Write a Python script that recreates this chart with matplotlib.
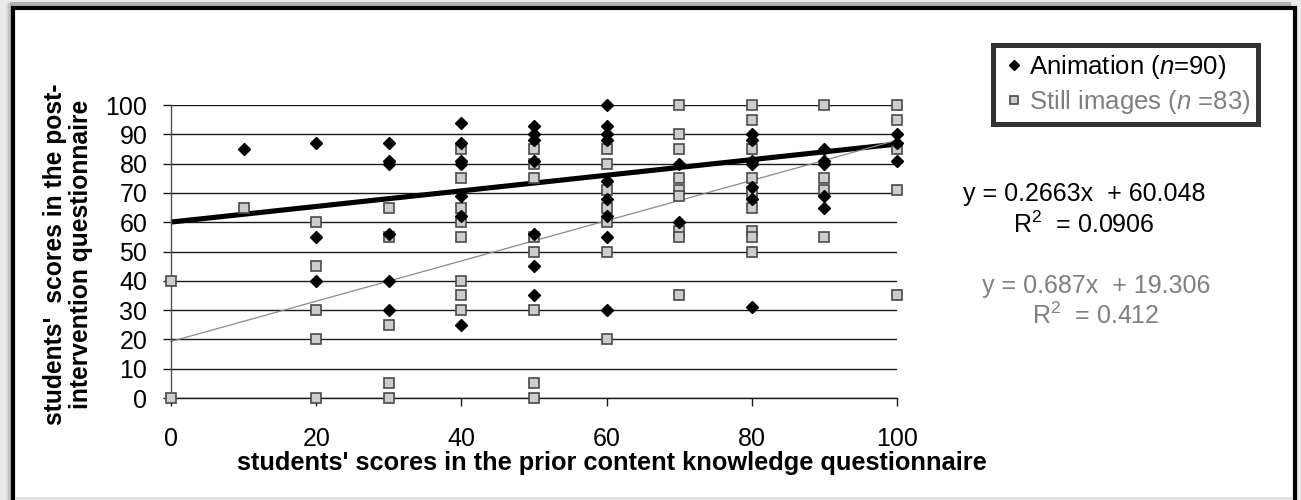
import numpy as np
import matplotlib
matplotlib.use("Agg")
import matplotlib.pyplot as plt
from matplotlib.patches import Rectangle

plt.rcParams['font.family'] = ['Liberation Sans', 'DejaVu Sans']
plt.rcParams['mathtext.fontset'] = 'custom'
plt.rcParams['mathtext.rm'] = 'Liberation Sans'
plt.rcParams['mathtext.it'] = 'Liberation Sans:italic'
plt.rcParams['mathtext.bf'] = 'Liberation Sans:bold'

# ---------------- data ----------------
anim_x = [10,
          20, 20, 20,
          30, 30, 30, 30, 30, 30,
          40, 40, 40, 40, 40, 40, 40,
          50, 50, 50, 50, 50, 50, 50,
          60, 60, 60, 60, 60, 60, 60, 60, 60,
          70, 70,
          80, 80, 80, 80, 80, 80, 80,
          90, 90, 90, 90, 90,
          100, 100, 100]
anim_y = [85,
          87, 55, 40,
          87, 81, 80, 56, 40, 30,
          94, 87, 81, 80, 69, 62, 25,
          93, 90, 88, 81, 56, 45, 35,
          100, 93, 90, 88, 74, 68, 62, 55, 30,
          80, 60,
          90, 88, 81, 80, 72, 68, 31,
          85, 81, 80, 69, 65,
          90, 87, 81]

still_x = [0, 0,
           10,
           20, 20, 20, 20, 20,
           30, 30, 30, 30, 30,
           40, 40, 40, 40, 40, 40, 40, 40,
           50, 50, 50, 50, 50, 50, 50, 50,
           60, 60, 60, 60, 60, 60, 60,
           70, 70, 70, 70, 70, 70, 70, 70, 70,
           80, 80, 80, 80, 80, 80, 80, 80, 80,
           90, 90, 90, 90,
           100, 100, 100, 100, 100]
still_y = [40, 0,
           65,
           60, 45, 30, 20, 0,
           65, 55, 25, 5, 0,
           85, 75, 65, 60, 55, 40, 35, 30,
           85, 80, 75, 55, 50, 30, 5, 0,
           85, 80, 71, 65, 60, 50, 20,
           100, 90, 85, 75, 71, 69, 57, 55, 35,
           100, 95, 85, 75, 70, 65, 57, 55, 50,
           100, 75, 71, 55,
           100, 95, 85, 71, 35]

series_labels = ['Animation ($\\mathit{n}$=90)', 'Still images ($\\mathit{n}$ =83)']
fit_slope = [0.2663, 0.687]
fit_intercept = [60.048, 19.306]
fit_r2 = ['0.0906', '0.412']

x_ticks = [0, 20, 40, 60, 80, 100]
y_ticks = [0, 10, 20, 30, 40, 50, 60, 70, 80, 90, 100]
x_label = "students' scores in the prior content knowledge questionnaire"
y_label = "students'  scores in the post-\nintervention questionnaire"

# ---------------- figure ----------------
W, H = 1301, 500
fig = plt.figure(figsize=(W / 100, H / 100), dpi=100, facecolor='#e9e9e9')

# frame with shadow
for i, c in enumerate(['#d8d8d8', '#c4c4c4', '#b0b0b0']):
    fig.patches.append(Rectangle(((6 + 2 * i) / W, -0.05), (1291 - 6 - 2 * i) / W, 1.05 - (4 - i) / H,
                                 transform=fig.transFigure, facecolor=c, edgecolor='none', zorder=-3))
fig.patches.append(Rectangle((13 / W, -0.05), (1295 - 13) / W, 1.05 - 8 / H,
                             transform=fig.transFigure, facecolor='white', edgecolor='black',
                             linewidth=3.0, zorder=-2))
fig.patches.append(Rectangle((15 / W, 0), (1293 - 15) / W, 3 / H,
                             transform=fig.transFigure, facecolor='#e4e4e4', edgecolor='none', zorder=-1))

ax = fig.add_axes([171 / W, 102 / H, 726 / W, 293 / H])
ax.set_facecolor('none')

ax.set_xlim(0, 100)
ax.set_ylim(0, 100)
ax.set_xticks(x_ticks)
ax.set_yticks(y_ticks)
ax.yaxis.grid(True, color='#1a1a1a', linewidth=1.0)
ax.set_axisbelow(True)
for s in ['top', 'right']:
    ax.spines[s].set_visible(False)
ax.spines['left'].set_color('#505050')
ax.spines['left'].set_linewidth(1.0)
ax.spines['bottom'].set_color('#1a1a1a')
ax.spines['bottom'].set_linewidth(1.0)
ax.tick_params(axis='y', length=6, width=1, color='#1a1a1a', pad=11, labelsize=18)
ax.tick_params(axis='x', length=6, width=1, color='#1a1a1a', pad=15, labelsize=18)

# trend lines
xr = np.array([min(min(anim_x), min(still_x)), max(max(anim_x), max(still_x))], dtype=float)
ax.plot(xr, fit_slope[0] * xr + fit_intercept[0], color='black', linewidth=3.7,
        solid_capstyle='butt', zorder=2, clip_on=False)
ax.plot(xr, fit_slope[1] * xr + fit_intercept[1], color='#8a8a8a', linewidth=0.9,
        zorder=2, clip_on=False)

h_still, = ax.plot(still_x, still_y, linestyle='none', marker='s', markersize=7.9,
                   markerfacecolor='#cdcdcd', markeredgecolor='#4a4a4a', markeredgewidth=1.2,
                   zorder=3, clip_on=False)
h_anim, = ax.plot(anim_x, anim_y, linestyle='none', marker='D', markersize=6.2,
                  color='black', zorder=4, clip_on=False)

# legend
leg = fig.legend([h_anim, h_still], series_labels, loc='upper left',
                 bbox_to_anchor=(993 / W, 1 - 45 / H), frameon=True, fancybox=False,
                 edgecolor='black', fontsize=18.5, handlelength=1.0, handletextpad=0.1,
                 borderpad=0.3, labelspacing=0.3, borderaxespad=0, markerscale=0.75)
leg.get_frame().set_linewidth(3.6)
leg.get_texts()[1].set_color('#7f7f7f')

# axis labels
fig.text(237 / W, 1 - 470 / H, x_label, ha='left', va='baseline', fontsize=18.3,
         fontweight='bold')
fig.text(68 / W, 1 - 254 / H, y_label, rotation=90, ha='center', va='center',
         multialignment='center', fontsize=17.7, fontweight='bold', linespacing=1.1)

# equations
eq_colors = ['black', '#7f7f7f']
eq_cx = [1084, 1096]
eq_base1 = [201, 293]
eq_base2 = [233, 324]
for i in range(2):
    fig.text(eq_cx[i] / W, 1 - eq_base1[i] / H,
             'y = {}x  + {}'.format(fit_slope[i], fit_intercept[i]),
             ha='center', va='baseline', fontsize=18, color=eq_colors[i])
    fig.text(eq_cx[i] / W, 1 - eq_base2[i] / H, 'R$^2$  = ' + fit_r2[i],
             ha='center', va='baseline', fontsize=18, color=eq_colors[i])

fig.savefig('out.png', dpi=100, facecolor=fig.get_facecolor())
